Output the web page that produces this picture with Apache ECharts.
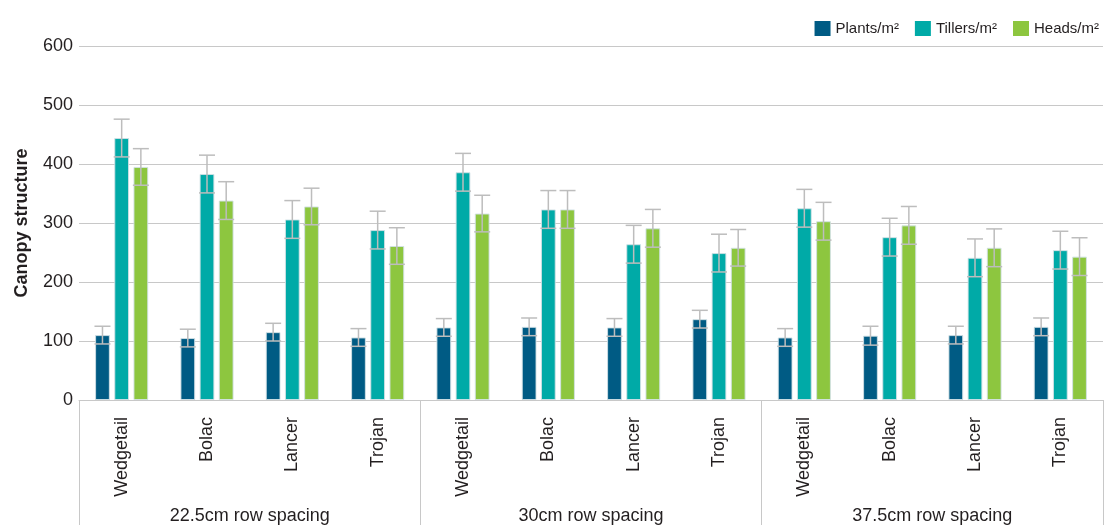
<!DOCTYPE html>
<html><head><meta charset="utf-8">
<script src="https://cdn.jsdelivr.net/npm/echarts/dist/echarts.min.js"></script>
<style>html,body{margin:0;padding:0;background:#fff}#c{width:1107px;height:525px}</style>
</head><body><div id="c"></div>
<script>
const cultivars = ['Wedgetail','Bolac','Lancer','Trojan','Wedgetail','Bolac','Lancer','Trojan','Wedgetail','Bolac','Lancer','Trojan'];
const groups = ['22.5cm row spacing','30cm row spacing','37.5cm row spacing'];
const seriesNames = ['Plants/m²','Tillers/m²','Heads/m²'];
const plants     = [110,105,115,106, 123,124,123,137, 106,109,110,124];
const plantsErr  = [15,15,15,15, 15,15,15,15, 15,16,15,15];
const tillers    = [444,383,306,288, 386,323,264,249, 325,276,241,254];
const tillersErr = [32,32,32,32, 32,32,32,32, 32,32,32,32];
const heads      = [395,338,328,261, 316,323,291,258, 303,296,258,243];
const headsErr   = [31,32,31,31, 31,32,32,31, 32,32,32,32];
const yMin = 0, yMax = 600, yStep = 100;

const colors = ['#005b84','#00aaa7','#8dc63f'];
const BAR_FRAC = 0.173, GAP_FRAC = 0.3;
const FONT = '"Liberation Sans", Arial, Helvetica, sans-serif';
const TXT = '#231f20';
const GRID_C = '#c8c8c8';

const values = [plants, tillers, heads];
const errs = [plantsErr, tillersErr, headsErr];

function errRender(k){
  return function(params, api){
    const idx = api.value(0), val = api.value(1), e = api.value(2);
    const band = api.size([1,0])[0];
    const bw = band*BAR_FRAC, gap = bw*GAP_FRAC;
    const cx = api.coord([idx,0])[0] + (k-1)*(bw+gap);
    const yt = api.coord([idx,val+e])[1], yb = api.coord([idx,val-e])[1];
    const hw = 8;
    const st = {stroke:'#bdbdbd', lineWidth:1.5};
    return {type:'group', children:[
      {type:'line', shape:{x1:cx,y1:yt,x2:cx,y2:yb}, style:st},
      {type:'line', shape:{x1:cx-hw,y1:yt,x2:cx+hw,y2:yt}, style:st},
      {type:'line', shape:{x1:cx-hw,y1:yb,x2:cx+hw,y2:yb}, style:st}
    ]};
  };
}

const series = [];
seriesNames.forEach((n,k)=>{
  series.push({
    name:n, type:'bar', data:values[k], barWidth:(BAR_FRAC*100)+'%', barGap:(GAP_FRAC*100)+'%',
    itemStyle:{color:colors[k], borderColor:'rgba(210,225,230,0.9)', borderWidth:1},
    xAxisIndex:0, yAxisIndex:0
  });
});
seriesNames.forEach((n,k)=>{
  series.push({
    name:n+' err', type:'custom', renderItem:errRender(k), z:10,
    data: values[k].map((v,i)=>[i, v, errs[k][i]]),
    encode:{x:0, y:1}, xAxisIndex:0, yAxisIndex:0, silent:true
  });
});

const chart = echarts.init(document.getElementById('c'), null, {renderer:'canvas'});
chart.setOption({
  animation:false,
  textStyle:{fontFamily:FONT},
  legend:{
    data:seriesNames, top:16, right:3, itemWidth:16, itemHeight:15, itemGap:16,
    icon:'rect', itemStyle:{borderWidth:0},
    textStyle:{fontSize:15, color:TXT, fontFamily:FONT}
  },
  grid:{left:79, right:4, top:46, bottom:125, containLabel:false},
  xAxis:[
    {type:'category', data:cultivars, position:'bottom',
      axisLine:{show:true, lineStyle:{color:GRID_C, width:1}},
      axisTick:{show:false},
      axisLabel:{rotate:90, fontSize:18, color:TXT, margin:17, fontFamily:FONT, interval:0}},
    {type:'category', data:groups, position:'bottom',
      axisLine:{show:false},
      axisTick:{show:true, length:125, lineStyle:{color:GRID_C, width:1}},
      axisLabel:{fontSize:18, color:TXT, margin:107, fontFamily:FONT, interval:0}}
  ],
  yAxis:{type:'value', min:yMin, max:yMax, interval:yStep,
    name:'Canopy structure', nameLocation:'middle', nameGap:48,
    nameTextStyle:{fontSize:18, fontWeight:'bold', color:TXT, fontFamily:FONT},
    axisLine:{show:false}, axisTick:{show:false},
    axisLabel:{fontSize:18, color:TXT, margin:6, fontFamily:FONT},
    splitLine:{lineStyle:{color:GRID_C, width:1}}
  },
  series:series
});
</script></body></html>
